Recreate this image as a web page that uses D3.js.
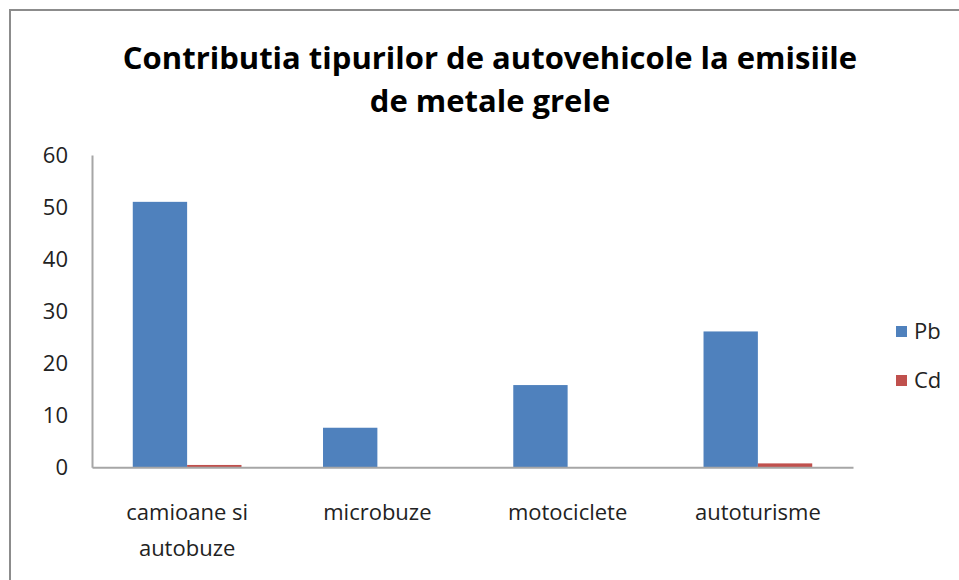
<!DOCTYPE html>
<html>
<head>
<meta charset="utf-8">
<script src="https://cdn.jsdelivr.net/npm/d3@7"></script>
<style>
    body { margin: 0; background: #fff; }
    svg { display: block; }
</style>
</head>
<body>
<div id="chart"></div>
<script>
// chart data
const categories = [["camioane si", "autobuze"], ["microbuze"], ["motociclete"], ["autoturisme"]];
const seriesNames = ["Pb", "Cd"];
const pbValues = [51, 7.6, 15.8, 26.1];
const cdValues = [0.45, 0, 0, 0.75];
const yTicks = [0, 10, 20, 30, 40, 50, 60];
const colors = {Pb: "#4F81BD", Cd: "#C0504D"};

const width = 959, height = 580;
const margin = {top: 155, right: 106, bottom: 113, left: 92};
const font = "'Open Sans', sans-serif";

let svg = d3.select("#chart").append("svg")
    .attr("width", width)
    .attr("height", height);

// outer frame (cut off at right and bottom)
svg.append("rect")
    .attr("x", 10)
    .attr("y", 10)
    .attr("width", 1200)
    .attr("height", 1200)
    .attr("fill", "none")
    .attr("stroke", "#8c8c8c")
    .attr("stroke-width", 2);

// title
let title = svg.append("text")
    .attr("text-anchor", "middle")
    .attr("font-family", font)
    .attr("font-weight", "bold")
    .attr("font-size", "31px")
    .attr("fill", "#000");
title.append("tspan").attr("x", 490).attr("y", 69).text("Contributia tipurilor de autovehicole la emisiile");
title.append("tspan").attr("x", 490).attr("y", 112).text("de metale grele");

let g = svg.append("g");

let data = categories.map((c, i) => ({cat: c.join(" "), lines: c, Pb: pbValues[i], Cd: cdValues[i]}));

// scales
let x0 = d3.scaleBand()
    .domain(data.map(d => d.cat))
    .range([margin.left, width - margin.right]);

let bw = x0.bandwidth() / 3.5;
let x1 = d3.scaleBand()
    .domain(seriesNames)
    .range([bw * 0.75, bw * 2.75]);

let y = d3.scaleLinear()
    .domain([0, 60])
    .range([height - margin.bottom + 0.3, margin.top]);

// bars
let groups = g.selectAll(".grp")
    .data(data)
    .enter()
    .append("g")
    .attr("class", "grp")
    .attr("transform", d => `translate(${x0(d.cat)},0)`);

groups.selectAll("rect")
    .data(d => seriesNames.map(s => ({key: s, value: d[s]})))
    .enter()
    .append("rect")
    .attr("x", d => x1(d.key))
    .attr("y", d => y(d.value))
    .attr("width", x1.bandwidth())
    .attr("height", d => y(0) - y(d.value))
    .attr("fill", d => colors[d.key]);

// y axis
let yAxis = d3.axisLeft(y).tickValues(yTicks).tickSize(0).tickPadding(24);
let yAxisGroup = g.append("g")
    .attr("transform", `translate(${margin.left},0)`)
    .call(yAxis);
yAxisGroup.select(".domain").attr("stroke", "#a6a6a6").attr("stroke-width", 2);
yAxisGroup.selectAll("text")
    .attr("font-family", font)
    .attr("font-size", "22px")
    .attr("fill", "#222");

// x axis
let xAxis = d3.axisBottom(x0).tickSize(0).tickFormat("");
let xAxisGroup = g.append("g")
    .attr("transform", `translate(0,${y(0)})`)
    .call(xAxis);
xAxisGroup.select(".domain").attr("stroke", "#a6a6a6").attr("stroke-width", 2);

// category labels
let catLabels = g.selectAll(".cat-label")
    .data(data)
    .enter()
    .append("text")
    .attr("class", "cat-label")
    .attr("text-anchor", "middle")
    .attr("font-family", font)
    .attr("font-size", "22px")
    .attr("fill", "#222");
catLabels.selectAll("tspan")
    .data(d => d.lines.map(l => ({l: l, x: x0(d.cat) + x0.bandwidth() / 2})))
    .enter()
    .append("tspan")
    .attr("x", d => d.x)
    .attr("y", (d, i) => 520 + i * 36)
    .text(d => d.l);

// legend
let legend = svg.append("g")
    .attr("transform", "translate(896,326)");

let items = legend.selectAll(".legend-item")
    .data(seriesNames)
    .enter()
    .append("g")
    .attr("class", "legend-item")
    .attr("transform", (d, i) => `translate(0,${i * 49})`);

items.append("rect")
    .attr("width", 11)
    .attr("height", 11)
    .attr("fill", d => colors[d]);

items.append("text")
    .attr("x", 18)
    .attr("y", 13)
    .attr("font-family", font)
    .attr("font-size", "22px")
    .attr("fill", "#222")
    .text(d => d);
</script>
</body>
</html>
